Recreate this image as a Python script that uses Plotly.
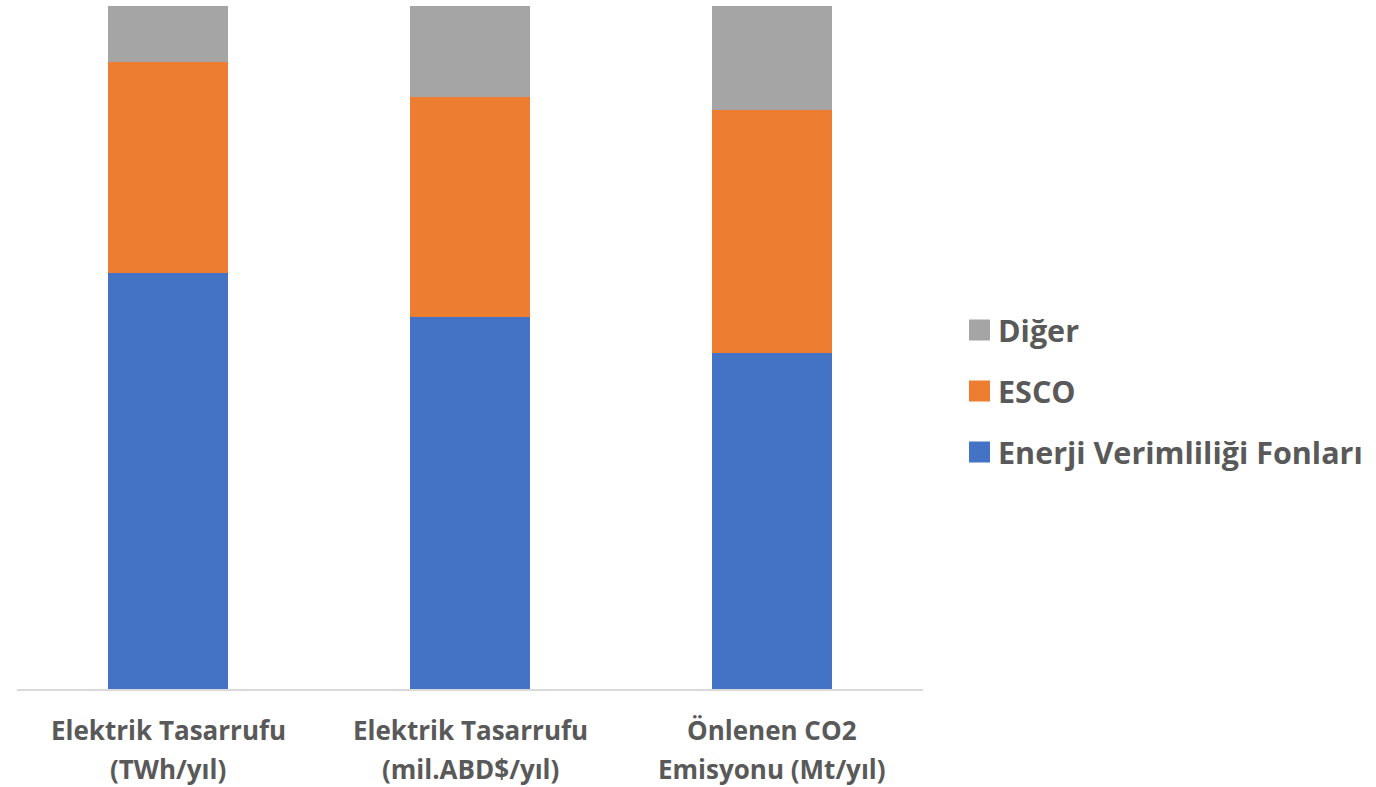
import plotly.graph_objects as go

categories = [
    "Elektrik Tasarrufu<br>(TWh/yıl)",
    "Elektrik Tasarrufu<br>(mil.ABD$/yıl)",
    "Önlenen CO2<br>Emisyonu (Mt/yıl)",
]
fonlar = [60.9, 54.5, 49.2]
esco = [30.9, 32.2, 35.6]
diger = [8.2, 13.3, 15.2]

series = [
    ("Enerji Verimliliği Fonları", fonlar, "#4472C4"),
    ("ESCO", esco, "#ED7D31"),
    ("Diğer", diger, "#A5A5A5"),
]

W, H = 1376, 787
M_L, M_R, M_T, M_B = 17, 453, 6, 98
PLOT_H = H - M_T - M_B
TEXT = "#595959"
FONT = "'Open Sans', 'Noto Sans', sans-serif"


def py(pixel_y):
    """Convert a pixel row to paper y."""
    return (H - M_B - pixel_y) / PLOT_H


def px(pixel_x):
    """Convert a pixel column to paper x."""
    return (pixel_x - M_L) / (W - M_L - M_R)


fig = go.Figure()
for name, vals, color in series:
    fig.add_trace(go.Bar(
        x=categories, y=vals, name=name, showlegend=False,
        marker=dict(color=color, line=dict(width=0)),
    ))

annotations = []
shapes = []

# category labels, two lines each, under the axis
for cat in categories:
    for i, line in enumerate(cat.split("<br>")):
        annotations.append(dict(
            x=cat, xref="x", y=py(730 + 38.5 * i), yref="paper",
            text=line, showarrow=False, xanchor="center", yanchor="middle",
            borderpad=0,
            font=dict(family=FONT, size=26, color=TEXT, weight="bold"),
        ))

# legend: top entry is the top segment of the stack
for i, (name, vals, color) in enumerate(reversed(series)):
    cy = 330 + 61 * i
    shapes.append(dict(
        type="rect", xref="paper", yref="paper",
        x0=px(969), x1=px(990), y0=py(cy - 10.5), y1=py(cy + 10.5),
        fillcolor=color, line=dict(width=0),
    ))
    annotations.append(dict(
        x=px(996), xref="paper", y=py(cy), yref="paper",
        text=name, showarrow=False, xanchor="left", yanchor="middle",
        font=dict(family=FONT, size=30.5, color=TEXT, weight="bold"),
    ))

fig.update_layout(
    barmode="stack",
    bargap=0.6,
    width=W, height=H,
    margin=dict(l=M_L, r=M_R, t=M_T, b=M_B),
    paper_bgcolor="white", plot_bgcolor="white",
    showlegend=False,
    xaxis=dict(
        showline=True, linecolor="#D9D9D9", linewidth=1.5,
        ticks="", showgrid=False, showticklabels=False,
    ),
    yaxis=dict(range=[0, 100], visible=False, showgrid=False),
    annotations=annotations,
    shapes=shapes,
)

fig.write_html("out.html")
